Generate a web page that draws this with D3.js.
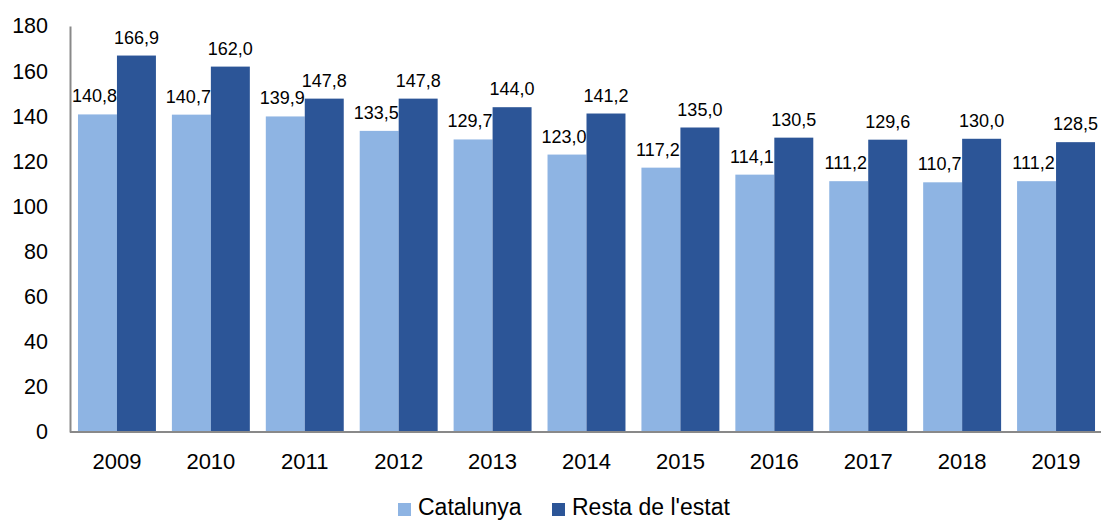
<!DOCTYPE html>
<html><head><meta charset="utf-8">
<script src="https://cdn.jsdelivr.net/npm/d3@7"></script>
<style>body{margin:0;background:#fff}text{font-family:"Liberation Sans",Arial,sans-serif}</style>
</head><body><svg id="c" width="1101" height="520"></svg>
<script>
const years = ["2009","2010","2011","2012","2013","2014","2015","2016","2017","2018","2019"];
const catalunya = [140.8,140.7,139.9,133.5,129.7,123.0,117.2,114.1,111.2,110.7,111.2];
const resta = [166.9,162.0,147.8,147.8,144.0,141.2,135.0,130.5,129.6,130.0,128.5];
const seriesNames = ["Catalunya","Resta de l'estat"];
const yTicks = [0,20,40,60,80,100,120,140,160,180];
const colors = ["#8EB4E3","#2C5597"];

const svg = d3.select("#c");
const x0 = d3.scaleBand().domain(years).range([70,1103]).paddingInner(0.17).paddingOuter(0.085);
const x1 = d3.scaleBand().domain([0,1]).range([0,x0.bandwidth()]);
const y = d3.scaleLinear().domain([0,180]).range([432,26]);
const fmt = v => v.toFixed(1).replace(".",",");

const series = [catalunya, resta];
series.forEach((vals,si)=>{
  svg.append("g").selectAll("rect").data(vals).join("rect")
    .attr("x",(d,i)=>x0(years[i])+x1(si))
    .attr("y",d=>y(d)).attr("width",x1.bandwidth()).attr("height",d=>y(0)-y(d))
    .attr("fill",colors[si]);
  svg.append("g").selectAll("text").data(vals).join("text")
    .attr("x",(d,i)=>x0(years[i])+x1(si)+x1.bandwidth()/2 - (si===0?3:0))
    .attr("y",d=>y(d)-12).attr("text-anchor","middle").attr("font-size",18).attr("fill","#000")
    .text(fmt);
});

// y axis
const ya = svg.append("g").attr("transform","translate(70,0)")
  .call(d3.axisLeft(y).tickValues(yTicks).tickSize(0).tickPadding(22));
ya.select(".domain").attr("stroke","#898989").attr("stroke-width",2);
ya.selectAll("text").attr("font-size",21.5).attr("fill","#000").attr("font-family","Liberation Sans, Arial, sans-serif");

// x axis
const xa = svg.append("g").attr("transform","translate(0,432)")
  .call(d3.axisBottom(x0).tickSize(0).tickPadding(21));
xa.select(".domain").attr("stroke","#898989").attr("stroke-width",2).attr("d","M70,0H1101");
xa.selectAll("text").attr("font-size",22).attr("fill","#000").attr("font-family","Liberation Sans, Arial, sans-serif");

// legend
const lx = [398,552];
seriesNames.forEach((n,i)=>{
  svg.append("rect").attr("x",lx[i]).attr("y",503).attr("width",13).attr("height",13).attr("fill",colors[i]);
  svg.append("text").attr("x",lx[i]+20).attr("y",515).attr("font-size",23).attr("fill","#000").text(n);
});
</script></body></html>
